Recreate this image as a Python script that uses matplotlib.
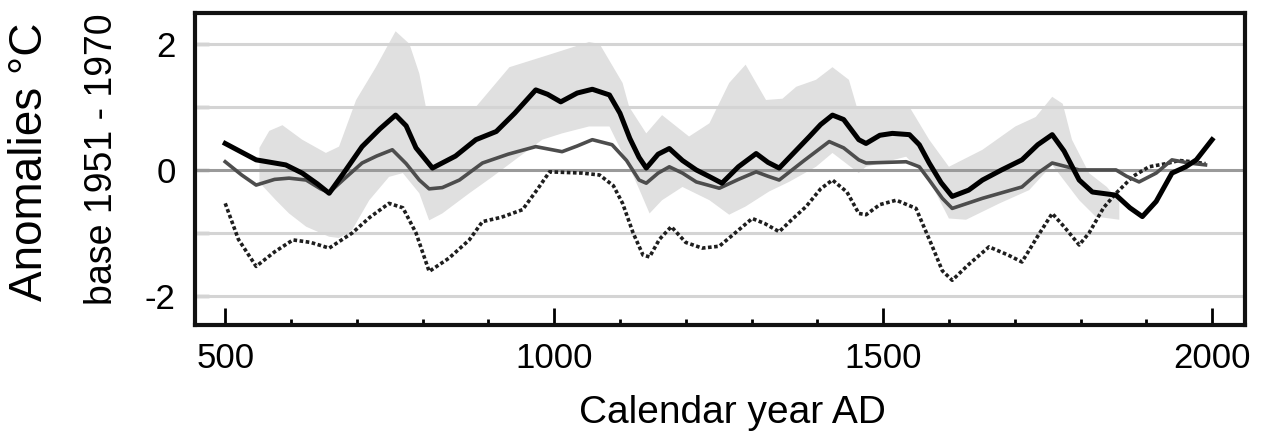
import numpy as np
import matplotlib
matplotlib.use("Agg")
import matplotlib.pyplot as plt
from matplotlib.ticker import MultipleLocator

plt.rcParams['font.family'] = ['Liberation Sans', 'DejaVu Sans']
plt.rcParams['axes.unicode_minus'] = False

# thick black curve
black_years = [500, 547, 592, 617, 640, 658, 680, 708, 735, 759, 775, 790, 815, 850, 881, 912,
               940, 972, 990, 1010, 1035, 1058, 1084, 1100, 1115, 1129, 1140, 1158, 1175, 1195,
               1216, 1235, 1255, 1280, 1307, 1325, 1342, 1365, 1388, 1405, 1423, 1440, 1463, 1474,
               1495, 1514, 1540, 1555, 1570, 1588, 1605, 1630, 1651, 1680, 1711, 1735, 1757, 1775,
               1798, 1818, 1854, 1875, 1894, 1915, 1939, 1960, 1976, 2000]
black_vals = [0.42, 0.16, 0.08, -0.05, -0.22, -0.37, -0.05, 0.37, 0.65, 0.87, 0.7, 0.35, 0.03, 0.22,
              0.48, 0.61, 0.9, 1.27, 1.2, 1.08, 1.22, 1.28, 1.19, 0.9, 0.5, 0.2, 0.03, 0.25, 0.34,
              0.15, 0.0, -0.1, -0.21, 0.05, 0.26, 0.12, 0.03, 0.28, 0.53, 0.72, 0.87, 0.8, 0.48,
              0.42, 0.55, 0.58, 0.56, 0.4, 0.11, -0.2, -0.42, -0.32, -0.16, 0.0, 0.16, 0.4, 0.56,
              0.3, -0.16, -0.35, -0.40, -0.6, -0.74, -0.5, -0.05, 0.05, 0.16, 0.48]

# medium grey curve
grey_years = [500, 525, 547, 575, 597, 623, 645, 658, 680, 708, 730, 754, 775, 795, 810, 830, 856,
              891, 930, 972, 1012, 1035, 1058, 1088, 1110, 1129, 1140, 1158, 1175, 1195, 1216, 1251,
              1280, 1307, 1325, 1342, 1380, 1418, 1440, 1463, 1474, 1535, 1555, 1570, 1590, 1605,
              1651, 1711, 1735, 1757, 1798, 1854, 1870, 1889, 1915, 1939, 1965, 1990]
grey_vals = [0.13, -0.08, -0.24, -0.15, -0.13, -0.16, -0.3, -0.36, -0.15, 0.11, 0.22, 0.32, 0.1,
             -0.16, -0.3, -0.28, -0.16, 0.11, 0.25, 0.37, 0.29, 0.38, 0.48, 0.4, 0.15, -0.16, -0.21,
             -0.05, 0.05, -0.05, -0.19, -0.29, -0.15, -0.03, -0.1, -0.16, 0.15, 0.45, 0.35, 0.16,
             0.11, 0.13, 0.05, -0.16, -0.45, -0.61, -0.45, -0.27, -0.05, 0.11, 0.0, 0.0, -0.1,
             -0.19, -0.05, 0.16, 0.11, 0.08]

# dotted curve
dot_years = [500, 520, 547, 575, 603, 630, 658, 693, 720, 749, 770, 790, 810, 840, 871, 891, 920,
             952, 975, 993, 1043, 1069, 1090, 1104, 1120, 1135, 1145, 1160, 1178, 1200, 1225, 1251,
             1275, 1301, 1320, 1342, 1360, 1383, 1405, 1423, 1445, 1463, 1474, 1495, 1520, 1550,
             1575, 1590, 1605, 1630, 1661, 1690, 1711, 1735, 1757, 1775, 1798, 1813, 1835, 1854,
             1880, 1904, 1930, 1950, 1970, 1990]
dot_vals = [-0.53, -1.1, -1.53, -1.3, -1.11, -1.15, -1.24, -1.0, -0.75, -0.53, -0.6, -1.0, -1.61,
            -1.4, -1.11, -0.82, -0.75, -0.63, -0.3, -0.03, -0.05, -0.08, -0.25, -0.53, -1.0, -1.35,
            -1.38, -1.1, -0.9, -1.15, -1.24, -1.21, -1.0, -0.77, -0.85, -0.98, -0.8, -0.58, -0.3,
            -0.16, -0.35, -0.69, -0.71, -0.55, -0.48, -0.61, -1.22, -1.6, -1.75, -1.5, -1.22,
            -1.35, -1.46, -1.05, -0.69, -0.9, -1.19, -1.0, -0.6, -0.37, -0.1, 0.05, 0.1, 0.15,
            0.13, 0.1]

# shaded range
band_up_years = [552, 567, 587, 617, 653, 673, 699, 729, 759, 780, 795, 805, 881, 932, 993, 1053,
                 1069, 1104, 1114, 1140, 1164, 1205, 1236, 1266, 1291, 1322, 1347, 1368, 1398, 1423,
                 1448, 1460, 1540, 1570, 1600, 1651, 1701, 1732, 1757, 1773, 1787, 1813, 1840, 1859]
band_up_vals = [0.35, 0.62, 0.71, 0.48, 0.27, 0.37, 1.11, 1.63, 2.2, 2.0, 1.53, 1.0, 1.0, 1.63,
                1.83, 2.03, 2.0, 1.38, 1.0, 0.58, 0.87, 0.53, 0.74, 1.38, 1.67, 1.11, 1.13, 1.32,
                1.43, 1.63, 1.43, 1.0, 1.0, 0.48, 0.05, 0.32, 0.69, 0.84, 1.16, 1.05, 0.48, -0.05,
                -0.27, -0.5]
band_lo_years = [552, 577, 597, 623, 658, 673, 693, 719, 749, 770, 795, 810, 830, 871, 906, 947,
                 982, 1012, 1053, 1084, 1114, 1129, 1145, 1164, 1195, 1236, 1266, 1291, 1327, 1357,
                 1398, 1423, 1463, 1474, 1535, 1570, 1600, 1626, 1677, 1722, 1757, 1798, 1823, 1859]
band_lo_vals = [-0.2, -0.48, -0.69, -0.9, -1.06, -1.08, -0.95, -0.48, -0.11, -0.05, -0.37, -0.8,
                -0.69, -0.37, -0.11, 0.21, 0.48, 0.58, 0.69, 0.69, 0.05, -0.3, -0.69, -0.48, -0.27,
                -0.48, -0.71, -0.58, -0.34, -0.19, 0.05, 0.27, -0.05, 0.05, 0.21, -0.16, -0.77,
                -0.79, -0.53, -0.32, 0.08, -0.48, -0.74, -0.79]

y_ticks = [-2, 0, 2]
x_ticks = [500, 1000, 1500, 2000]

fig = plt.figure(figsize=(12.61, 4.33), dpi=100)
ax = fig.add_axes([0.1546, 0.2494, 0.8327, 0.7206])

band_x = np.concatenate([band_up_years, band_lo_years[::-1]])
band_y = np.concatenate([band_up_vals, band_lo_vals[::-1]])
ax.fill(band_x, band_y, color='#e0e0e0', lw=0, zorder=1)

for g in [-2, -1, 1, 2]:
    ax.axhline(g, color='#d4d4d4', lw=2.2, zorder=2)
ax.axhline(0, color='#9a9a9a', lw=2.2, zorder=2)

ax.plot(dot_years, dot_vals, color='#1e1e1e', lw=2.6, ls=(0, (1.0, 0.7)), zorder=3)
ax.plot(grey_years, grey_vals, color='#4d4d4d', lw=2.6, zorder=4)
ax.plot(black_years, black_vals, color='black', lw=3.6, zorder=5)

ax.set_xlim(454, 2050)
ax.set_ylim(-2.46, 2.49)

ax.set_xticks(x_ticks)
ax.xaxis.set_minor_locator(MultipleLocator(100))
ax.set_yticks(y_ticks)
ax.tick_params(axis='x', which='major', direction='in', length=12, width=2, pad=12,
               labelsize=25, color='black')
ax.tick_params(axis='x', which='minor', direction='in', length=4, width=2, color='black')
ax.tick_params(axis='y', which='major', direction='in', length=10, width=2.5, pad=14,
               labelsize=25, color='#b0b0b0')
ax.set_yticks([-1, 1], minor=True)
ax.tick_params(axis='y', which='minor', direction='in', length=10, width=2.5, color='#b0b0b0')

for s in ax.spines.values():
    s.set_linewidth(3)
    s.set_color('#111111')

fig.text(30 / 1261, 1 - 162 / 433, 'Anomalies \u00b0C', rotation=90, fontsize=33,
         ha='center', va='center')
fig.text(102 / 1261, 1 - 159 / 433, 'base 1951 - 1970', rotation=90, fontsize=27,
         ha='center', va='center')
fig.text(732 / 1261, 1 - 413 / 433, 'Calendar year AD', fontsize=28, ha='center', va='center')

fig.savefig('out.png', dpi=100)
